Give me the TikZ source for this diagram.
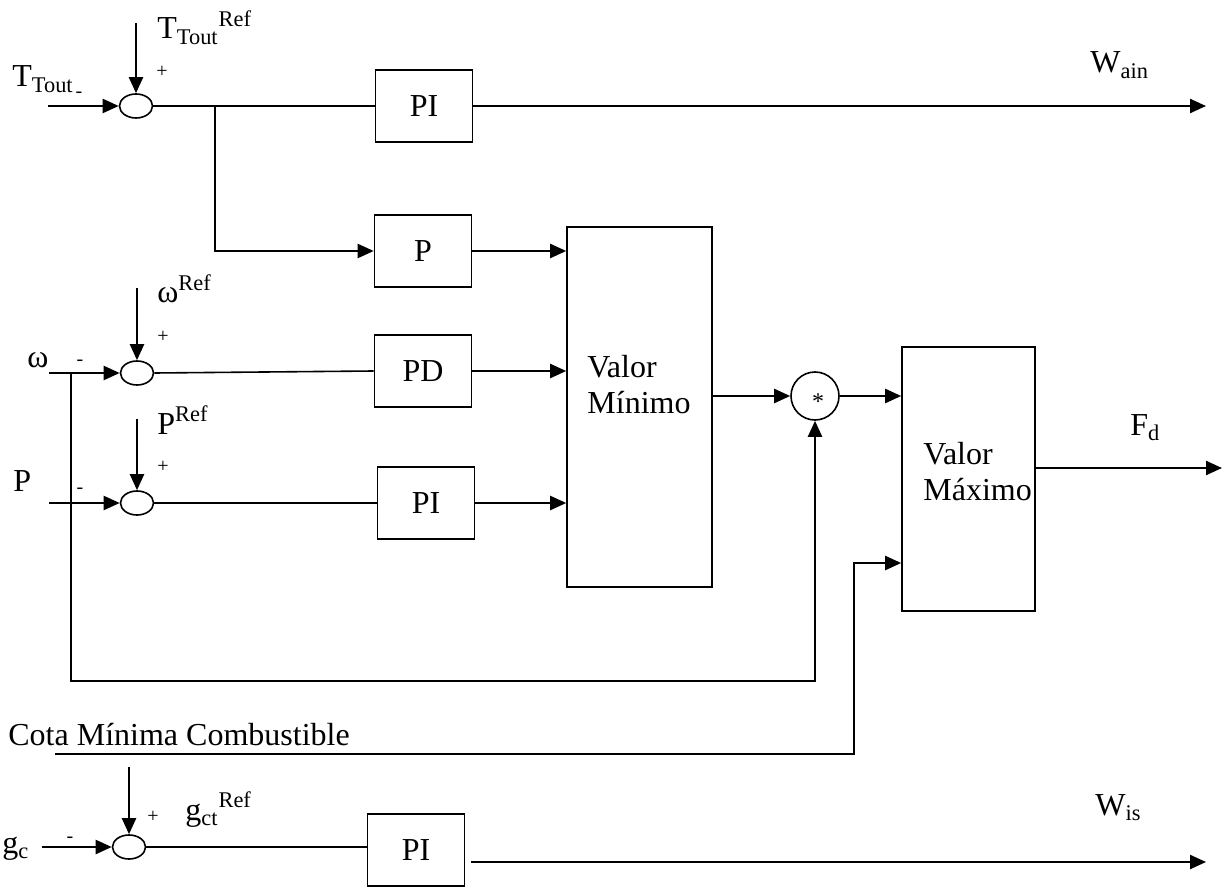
\documentclass[tikz,border=0pt]{standalone}
\usepackage{fontspec}
\setmainfont{Liberation Serif}
\usetikzlibrary{arrows.meta,calc,positioning,shapes.geometric}

\begin{document}
\begin{tikzpicture}[x=0.5pt,y=-0.5pt,font=\fontsize{16}{18}\selectfont,
  blk/.style={draw,line width=0.8pt,minimum width=48.5pt,minimum height=36pt,inner sep=0pt},
  sumc/.style={draw,ellipse,line width=0.8pt,minimum width=16.5pt,minimum height=12pt,inner sep=0pt},
  sgn/.style={font=\fontsize{10}{12}\selectfont,inner sep=0pt},
  lbl/.style={anchor=base west,inner sep=0pt},
  arr/.style={line width=1.15pt,-{Triangle[length=8pt,width=7pt]}},
  wire/.style={line width=0.8pt}]
\useasboundingbox (0,0) rectangle (1224,887);
% blocks
\foreach \nm/\x/\y/\t in {pi1/424/106/PI,p/423/251/P,pd/423/371/PD,pi2/426/503/PI,pi3/416/850/PI}
  \node[blk] (\nm) at (\x,\y) {\t};
\node[draw,line width=0.8pt,minimum width=72.5pt,minimum height=180pt] (vmin) at (639.5,407) {};
\node[draw,line width=0.8pt,minimum width=66.5pt,minimum height=132pt] (vmax) at (968.5,479) {};
\node[align=left,anchor=north west,inner sep=0pt] (tvmin) at (587,355) {Valor\\Mínimo};
\node[align=left,anchor=north west,inner sep=0pt] (tvmax) at (923,442) {Valor\\Máximo};
\node[draw,circle,line width=0.8pt,minimum size=24pt,inner sep=0pt] (mult) at (815,396) {};
\node[font=\fontsize{12}{14}\selectfont,inner sep=0pt] (star) at (818,402) {*};
% summing junctions
\node[sumc] (s1) at (136,106) {};
\node[sumc] (s2) at (137,373) {};
\node[sumc] (s3) at (137,503) {};
\node[sumc] (s4) at (129,847) {};
% free ends
\coordinate (i1) at (48,106);  \coordinate (r1) at (136,23);
\coordinate (i2) at (49,373);  \coordinate (r2) at (137,288);
\coordinate (i3) at (49,503);  \coordinate (r3) at (137,419);
\coordinate (i4) at (42,847);  \coordinate (r4) at (129,767);
\coordinate (b1) at (215,106); \coordinate (b2) at (71,373);
\coordinate (fb) at (71,681);  \coordinate (cota) at (55,754);
\coordinate (cup) at (854,563);
\coordinate (wain) at (1206,106); \coordinate (fd) at (1222,468);
\coordinate (wis) at (1206,862);
% connectors
\draw[arr] (i1) -- (s1.west);
\draw[arr] (r1) -- (s1.north);
\draw[wire] (s1.east) -- (pi1.west);
\draw[arr] (pi1.east) -- (wain);
\draw[arr] (b1) |- (p.west);
\draw[arr] (p.east) -- (p.east -| vmin.west);
\draw[arr] (i2) -- (s2.west);
\draw[arr] (r2) -- (s2.north);
\draw[wire] (s2.east) -- (pd.west);
\draw[arr] (pd.east) -- (pd.east -| vmin.west);
\draw[arr] (i3) -- (s3.west);
\draw[arr] (r3) -- (s3.north);
\draw[wire] (s3.east) -- (pi2.west);
\draw[arr] (pi2.east) -- (pi2.east -| vmin.west);
\draw[arr] (mult.west -| vmin.east) -- (mult.west);
\draw[arr] (mult.east) -- (mult.east -| vmax.west);
\draw[arr] (b2) -- (fb) -| (mult.south);
\draw[arr] (cota) -| (cup) -- (cup -| vmax.west);
\draw[arr] (vmax.east |- fd) -- (fd);
\draw[arr] (i4) -- (s4.west);
\draw[arr] (r4) -- (s4.north);
\draw[wire] (s4.east) -- (s4.east -| pi3.west);
\draw[arr] ($(wis -| pi3.east)+(6,0)$) -- (wis);
% labels
\node[lbl] (lT) at (12,87) {T\textsubscript{Tout}};
\node[lbl] (lTr) at (157,39) {T\textsubscript{Tout}\textsuperscript{Ref}};
\node[lbl] (lw) at (27,367) {ω};
\node[lbl] (lwr) at (157,303) {ω\textsuperscript{Ref}};
\node[lbl] (lP) at (13,491) {P};
\node[lbl] (lPr) at (157,434) {P\textsuperscript{Ref}};
\node[lbl] (lg) at (2,853) {g\textsubscript{c}};
\node[lbl] (lgr) at (185,820) {g\textsubscript{ct}\textsuperscript{Ref}};
\node[lbl] (lwa) at (1090,73) {W\textsubscript{ain}};
\node[lbl] (lfd) at (1130,435) {F\textsubscript{d}};
\node[lbl] (lwi) at (1095,815) {W\textsubscript{is}};
\node[lbl] (lcota) at (8,745) {Cota Mínima Combustible};
\foreach \nm/\x/\y in {m1/79/95,m2/80/363,m3/80/491,m4/70/840}
  \node[sgn] (\nm) at (\x,\y) {-};
\foreach \nm/\x/\y in {pl1/162/72,pl2/163/337,pl3/163/467,pl4/153/817}
  \node[sgn] (\nm) at (\x,\y) {+};
\end{tikzpicture}
\end{document}
